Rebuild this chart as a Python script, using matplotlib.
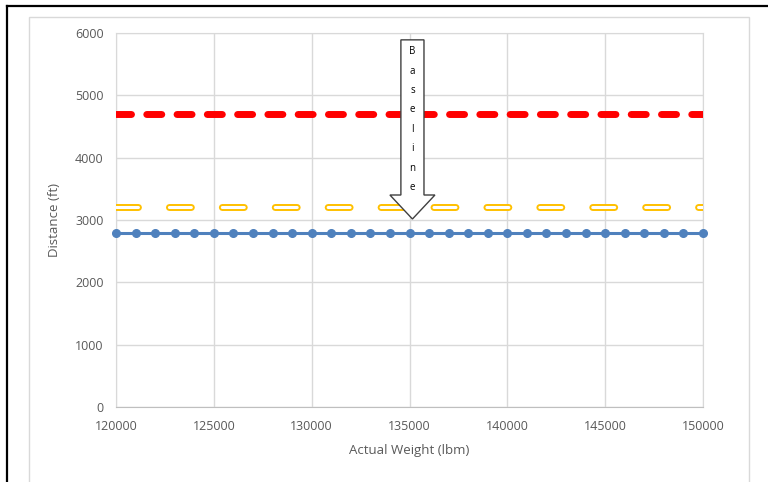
# Distance vs actual weight - baseline chart
import matplotlib
matplotlib.use('Agg')
import matplotlib.pyplot as plt
import numpy as np
from matplotlib.patches import FancyArrow, Rectangle
from matplotlib.lines import Line2D

plt.rcParams['font.family'] = ['Open Sans', 'DejaVu Sans']
plt.rcParams['lines.scale_dashes'] = False

# Data
weights = list(range(120000, 150001, 1000))
blue_dist = [2790] * len(weights)
yellow_dist = [3210, 3210]
red_dist = [4700, 4700]
line_x = [120000, 150000]
x_ticks = [120000, 125000, 130000, 135000, 140000, 145000, 150000]
y_ticks = [0, 1000, 2000, 3000, 4000, 5000, 6000]
label_text = 'Baseline'

fig = plt.figure(figsize=(7.68, 4.82), dpi=100)
ax = fig.add_axes([116/768, 1 - 407/482, (703-116)/768, (407-33)/482])

# Frame around the chart (black outer, grey chart area)
fig.add_artist(Line2D([7/768, 7/768], [0, 1 - 6/482], color='black', lw=1.6))
fig.add_artist(Line2D([7/768, 1], [1 - 6/482, 1 - 6/482], color='black', lw=1.6))
fig.add_artist(Rectangle((29/768, -0.05), (749-29)/768, 1.05 - 17/482, transform=fig.transFigure,
                         fill=False, edgecolor='#d9d9d9', lw=1.0))

# Series
ax.plot(line_x, red_dist, color='#ff0000', lw=5, dashes=(10.8, 11.0),
        dash_capstyle='round', zorder=3)
ax.plot(line_x, yellow_dist, color='#ffc000', lw=5, dashes=(15.8, 22.3), dash_capstyle='round', zorder=3)
ax.plot(line_x, yellow_dist, color='white', lw=2.2, dashes=(15.8, 22.3), dash_capstyle='round', zorder=3)
ax.plot(weights, blue_dist, color='#4f81bd', lw=2.2, marker='o', markersize=5.5, clip_on=False, zorder=4)

# Baseline arrow
arrow = FancyArrow(135150, 5890, 0, -2874, width=1180, head_width=2300, head_length=385,
                   length_includes_head=True, facecolor='white', edgecolor='#404040', lw=1.0, zorder=6)
ax.add_patch(arrow)
ax.text(135150, 4610, '\n'.join(label_text), ha='center', va='center', fontsize=7,
        linespacing=2.05, color='black', zorder=7)

ax.set_xlim(120000, 150000)
ax.set_ylim(0, 6000)
ax.set_xticks(x_ticks)
ax.set_yticks(y_ticks)
ax.set_xticklabels([str(t) for t in x_ticks])
ax.set_yticklabels([str(t) for t in y_ticks])
ax.grid(True, color='#d9d9d9', lw=1.0)
ax.set_axisbelow(True)
for side in ['top', 'right', 'left']:
    ax.spines[side].set_color('#d9d9d9')
ax.spines['bottom'].set_color('#bfbfbf')
ax.tick_params(length=0, labelsize=9, labelcolor='#595959', pad=9)
ax.set_xlabel('Actual Weight (lbm)', fontsize=9.5, color='#595959', labelpad=8)
ax.set_ylabel('Distance (ft)', fontsize=9.5, color='#595959', labelpad=10)

fig.savefig('out.png', dpi=100)
